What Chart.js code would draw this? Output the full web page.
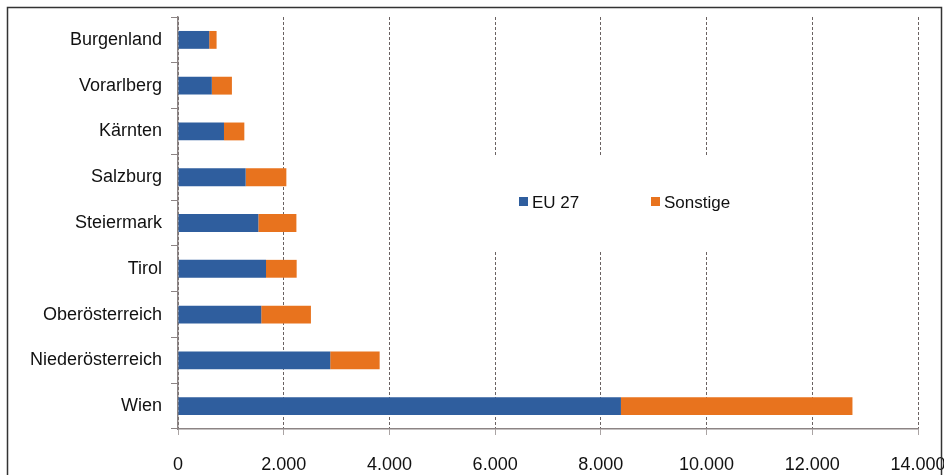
<!DOCTYPE html>
<html>
<head>
<meta charset="utf-8">
<script src="https://cdn.jsdelivr.net/npm/chart.js@4.4.1/dist/chart.umd.min.js"></script>
<style>
  html, body { margin: 0; padding: 0; background: #fff; }
  #wrap { position: relative; width: 944px; height: 475px; }
</style>
</head>
<body>
<div id="wrap"><canvas id="chart" width="944" height="475"></canvas></div>
<script>
// data
const regions = ['Burgenland', 'Vorarlberg', 'Kärnten', 'Salzburg', 'Steiermark', 'Tirol', 'Oberösterreich', 'Niederösterreich', 'Wien'];
const eu27 = [590, 640, 870, 1280, 1520, 1665, 1575, 2880, 8380];
const sonstige = [140, 380, 385, 770, 720, 580, 940, 935, 4380];
const seriesNames = ['EU 27', 'Sonstige'];
const xTicks = [0, 2000, 4000, 6000, 8000, 10000, 12000, 14000];

const BLUE = '#2f5e9e';
const ORANGE = '#e8731e';
const FONT = '"Liberation Sans", Arial, sans-serif';

// thousands separator with a dot, like the original
function fmt(v) {
  return String(v).replace(/\B(?=(\d{3})+(?!\d))/g, '.');
}

// frame + legend drawn inside the plot, with a white patch behind it
const extras = {
  id: 'extras',
  beforeDatasetsDraw(chart) {
    const ctx = chart.ctx;
    ctx.save();
    ctx.fillStyle = '#fff';
    ctx.fillRect(487, 156, 280, 94);
    ctx.restore();
  },
  afterDraw(chart) {
    const ctx = chart.ctx;
    ctx.save();
    ctx.font = '17px ' + FONT;
    ctx.textBaseline = 'middle';
    const items = [
      { x: 519, color: chart.data.datasets[0].backgroundColor, text: chart.data.datasets[0].label },
      { x: 651, color: chart.data.datasets[1].backgroundColor, text: chart.data.datasets[1].label }
    ];
    items.forEach(it => {
      ctx.fillStyle = it.color;
      ctx.fillRect(it.x, 197, 9, 9);
      ctx.fillStyle = '#111';
      ctx.fillText(it.text, it.x + 13, 203);
    });
    ctx.strokeStyle = '#333';
    ctx.lineWidth = 1.5;
    ctx.strokeRect(7.5, 7.5, 934, 480);
    ctx.restore();
  }
};

new Chart(document.getElementById('chart').getContext('2d'), {
  type: 'bar',
  data: {
    labels: regions,
    datasets: [
      { label: seriesNames[0], data: eu27, backgroundColor: BLUE },
      { label: seriesNames[1], data: sonstige, backgroundColor: ORANGE }
    ]
  },
  options: {
    indexAxis: 'y',
    responsive: false,
    animation: false,
    layout: { padding: { left: 0, right: 26, top: 17, bottom: 0 } },
    datasets: { bar: { categoryPercentage: 1, barPercentage: 0.39 } },
    plugins: {
      legend: { display: false },
      tooltip: { enabled: false }
    },
    scales: {
      x: {
        stacked: true,
        min: 0,
        max: 14000,
        afterBuildTicks(scale) { scale.ticks = xTicks.map(v => ({ value: v })); },
        afterFit(scale) {
          scale.height = 46;
          scale.paddingLeft = 0;
          scale.paddingRight = 0;
        },
        border: { display: true, color: '#8c8484', width: 1.5, dash: [3, 2] },
        grid: {
          drawOnChartArea: true,
          color: '#6a6262',
          lineWidth: 1,
          tickLength: 6,
          tickColor: '#8c8484',
          tickBorderDash: [1, 0]
        },
        ticks: {
          padding: 19,
          color: '#111',
          font: { family: FONT, size: 18 },
          maxRotation: 0,
          callback: v => fmt(v)
        }
      },
      y: {
        stacked: true,
        afterFit(scale) {
          scale.width = 178;
          scale.paddingTop = 0;
          scale.paddingBottom = 0;
        },
        border: { display: true, color: '#8c8484', width: 1.5 },
        grid: {
          offset: true,
          drawOnChartArea: false,
          tickLength: 7,
          tickColor: '#8c8484'
        },
        ticks: {
          padding: 9,
          color: '#111',
          font: { family: FONT, size: 18 }
        }
      }
    }
  },
  plugins: [extras]
});
</script>
</body>
</html>
